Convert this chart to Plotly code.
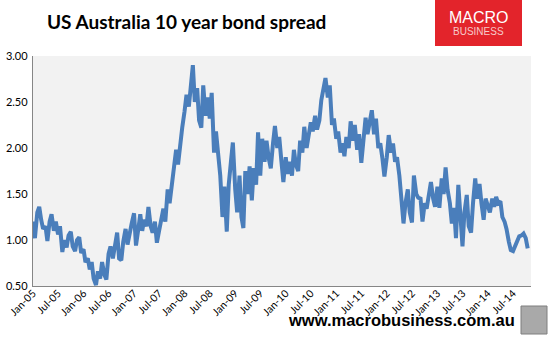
import pandas as pd
import plotly.graph_objects as go

# Semi-monthly readings of the US-Australia 10y bond spread (from Jan 2005)
start_date = "2005-01-01"
spread = [
    # 2005
    1.20, 1.02, 1.30, 1.36, 1.22, 1.12, 1.15, 0.99, 1.20, 1.28, 1.10, 1.20,
    1.06, 1.15, 0.87, 1.00, 0.92, 1.05, 1.09, 0.93, 0.88, 1.00, 1.03, 0.86,
    # 2006
    0.90, 0.76, 0.80, 0.68, 0.76, 0.58, 0.51, 0.66, 0.58, 0.76, 0.62, 0.57,
    0.85, 0.93, 0.80, 0.95, 1.08, 0.80, 0.78, 0.98, 1.12, 0.95, 1.05, 1.18,
    # 2007
    1.29, 0.94, 1.12, 1.28, 1.10, 1.22, 1.15, 1.36, 1.15, 1.08, 1.20, 0.97,
    1.10, 1.22, 1.34, 1.20, 1.55, 1.40, 1.62, 1.76, 1.98, 1.82, 2.10, 2.22,
    # 2008
    2.40, 2.58, 2.45, 2.65, 2.90, 2.50, 2.65, 2.30, 2.22, 2.68, 2.35, 2.55,
    2.32, 2.60, 1.95, 2.18, 1.92, 1.70, 1.25, 1.58, 1.09, 1.60, 1.85, 2.06,
    # 2009
    1.55, 1.30, 1.70, 1.25, 1.13, 1.75, 1.50, 1.80, 1.43, 1.78, 1.60, 2.17,
    1.70, 2.10, 1.85, 2.08, 1.88, 1.78, 2.05, 2.24, 2.00, 2.12, 1.85, 1.63,
    # 2010
    1.90, 1.72, 1.85, 1.70, 1.98, 1.82, 1.75, 2.08, 1.95, 2.23, 2.00, 2.15,
    2.28, 2.18, 2.35, 2.20, 2.30, 2.52, 2.65, 2.76, 2.55, 2.68, 2.25, 2.32,
    # 2011
    2.10, 2.18, 1.95, 2.05, 1.91, 2.12, 2.00, 2.29, 2.08, 2.25, 1.98, 2.15,
    1.84, 2.10, 2.33, 2.15, 2.30, 2.41, 2.15, 2.32, 2.00, 2.05, 1.88, 1.69,
    # 2012
    1.90, 2.14, 1.95, 2.05, 1.85, 1.90, 1.70, 1.45, 1.18, 1.40, 1.55, 1.30,
    1.19, 1.70, 1.50, 1.46, 1.45, 1.20, 1.40, 1.34, 1.47, 1.63, 1.45, 1.36,
    # 2013
    1.58, 1.35, 1.67, 1.50, 1.79, 1.55, 1.40, 1.18, 1.35, 1.02, 1.60, 1.20,
    0.93, 1.30, 1.49, 1.15, 1.08, 1.40, 1.67, 1.45, 1.61, 1.40, 1.22, 1.45,
    # 2014
    1.35, 1.30, 1.45, 1.36, 1.47, 1.40, 1.42, 1.25, 1.20, 1.12, 0.98, 0.89,
    0.88, 0.93, 0.97, 1.04, 1.05, 1.07, 1.02, 0.91,
]
dates = pd.date_range(start_date, periods=len(spread), freq="SMS")

title_text = "US Australia 10 year bond spread"
footer_text = "www.macrobusiness.com.au"
y_ticks = [0.5, 1.0, 1.5, 2.0, 2.5, 3.0]

W, H = 549, 354
L, R, T, B = 33, 18, 56, 68
pw, ph = W - L - R, H - T - B


def px(x):
    return (x - L) / pw


def py(y):
    return (H - B - y) / ph


fig = go.Figure()
fig.add_trace(go.Scatter(
    x=dates, y=spread, mode="lines",
    line=dict(color="#4a7ebb", width=4),
    hoverinfo="skip", showlegend=False,
))

fig.update_layout(
    width=W, height=H,
    margin=dict(l=L, r=R, t=T, b=B, pad=0, autoexpand=False),
    paper_bgcolor="white",
    plot_bgcolor="#f2f2f2",
    font=dict(family="Lato, Arial, sans-serif", color="#000000", size=11),
    showlegend=False,
)
fig.update_xaxes(
    type="date", automargin=False,
    range=["2005-01-01", "2014-11-08"],
    tick0="2005-01-01", dtick="M6", tickformat="%b-%y",
    tickangle=-45, ticks="", showgrid=False, zeroline=False,
    showline=True, linecolor="#868686", linewidth=1.3,
    tickfont=dict(size=10.5, family="Lato, Arial, sans-serif"),
    ticklabelstandoff=-4,
)
fig.update_yaxes(
    automargin=False,
    range=[0.5, 3.0], tickvals=y_ticks, tickformat=".2f",
    ticks="", showgrid=False, zeroline=False,
    showline=True, linecolor="#868686", linewidth=1.3,
    tickfont=dict(size=11, family="Lato, Arial, sans-serif"),
    ticklabelstandoff=2,
)

# Title
fig.add_annotation(
    x=px(45), y=py(22), xref="paper", yref="paper",
    xanchor="left", yanchor="middle", showarrow=False,
    text="<b>" + title_text + "</b>",
    font=dict(size=19, family="Lato, Arial, sans-serif", color="#000000"),
)

# MacroBusiness logo box
fig.add_shape(
    type="rect", xref="paper", yref="paper",
    x0=px(435), x1=px(522), y0=py(46), y1=py(0),
    fillcolor="#e3242b", line=dict(width=0), layer="above",
)
fig.add_annotation(
    x=px(478.5), y=py(17), xref="paper", yref="paper",
    xanchor="center", yanchor="middle", showarrow=False,
    text="MACRO",
    font=dict(size=16, family="Liberation Sans, Arial, sans-serif", color="#ffffff"),
)
fig.add_annotation(
    x=px(478.5), y=py(32), xref="paper", yref="paper",
    xanchor="center", yanchor="middle", showarrow=False,
    text="BUSINESS",
    font=dict(size=10, family="Liberation Sans, Arial, sans-serif", color="#f6c9c9"),
)

# Footer
fig.add_annotation(
    x=px(517), y=py(320), xref="paper", yref="paper",
    xanchor="right", yanchor="middle", showarrow=False,
    text="<b>" + footer_text + "</b>",
    font=dict(size=16.5, family="Liberation Sans, Arial, sans-serif", color="#000000"),
)
# Wolf icon placeholder
fig.add_shape(
    type="rect", xref="paper", yref="paper",
    x0=px(521), x1=px(547), y0=py(334), y1=py(306),
    fillcolor="#a9a9a9", line=dict(color="#7f7f7f", width=1), layer="above",
)

fig.write_html("out.html")
